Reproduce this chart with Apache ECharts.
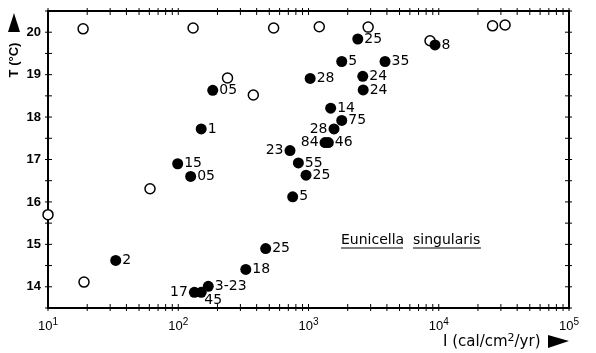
<!DOCTYPE html>
<html>
<head>
<meta charset="utf-8">
<script src="https://cdn.jsdelivr.net/npm/echarts@6/dist/echarts.min.js"></script>
<style>
  html, body { margin: 0; padding: 0; background: #fff; }
  #chart { width: 596px; height: 353px; }
</style>
</head>
<body>
<div id="chart"></div>
<script>
// open circles
var openI = [18.6, 130, 540, 1210, 2870, 8570, 25900, 32300, 239, 377, 10, 60.7, 18.9];
var openT = [20.08, 20.1, 20.1, 20.13, 20.12, 19.8, 20.15, 20.17, 18.92, 18.52, 15.7, 16.31, 14.11];

// filled circles with their depth labels
var fillI = [184, 150, 99, 124.5, 33.1, 469, 330, 133, 150, 170, 756,
  2390, 9360, 1800, 3870, 1030, 2610, 2630, 1480, 1800, 1570, 1340, 1420, 721, 836, 957];
var fillT = [18.63, 17.72, 16.90, 16.60, 14.62, 14.90, 14.41, 13.87, 13.87, 14.01, 16.12,
  19.84, 19.70, 19.31, 19.31, 18.91, 18.96, 18.64, 18.21, 17.92, 17.72, 17.40, 17.40, 17.21, 16.92, 16.63];
var fillLbl = ['05', '1', '15', '05', '2', '25', '18', '17', '45', '3-23', '5',
  '25', '8', '5', '35', '28', '24', '24', '14', '75', '28', '84', '46', '23', '55', '25'];

// tick values
var xTicks = [];
[10, 100, 1000, 10000].forEach(function (d) {
  for (var k = 1; k <= 9; k++) xTicks.push(k * d);
});
xTicks.push(100000);
var yTicks = [13.5, 14, 14.5, 15, 15.5, 16, 16.5, 17, 17.5, 18, 18.5, 19, 19.5, 20, 20.5];

var FONT = '"Liberation Sans", Arial, sans-serif';
var DV = '"DejaVu Sans", sans-serif';
var leftLbl = { '17': 1, '23': 1, '84': 1 };

var myChart = echarts.init(document.getElementById('chart'));

var fillData = fillI.map(function (v, i) {
  var d = { value: [v, fillT[i]], name: fillLbl[i] };
  if (leftLbl[fillLbl[i]] || i === 20) {
    d.label = { position: 'left' };
  }
  if (fillLbl[i] === '45') {
    d.label = { position: 'bottom', offset: [12, -5] };
  }
  return d;
});

var option = {
  animation: false,
  grid: {
    left: 48, right: 27, top: 11, bottom: 45,
    show: true, borderColor: '#000', borderWidth: 2
  },
  xAxis: {
    type: 'log',
    logBase: 10,
    min: 10,
    max: 100000,
    axisLine: { show: false },
    axisTick: { show: false },
    splitLine: { show: false },
    axisLabel: {
      margin: 9,
      color: '#000',
      fontFamily: FONT,
      fontSize: 13,
      formatter: function (v) {
        return '{b|10}{s|' + Math.round(Math.log10(v)) + '}';
      },
      rich: {
        b: { fontSize: 13, fontFamily: FONT, color: '#000' },
        s: { fontSize: 10, fontFamily: FONT, color: '#000', padding: [0, 0, 8, 0] }
      }
    }
  },
  yAxis: {
    type: 'value',
    min: 13.5,
    max: 20.5,
    interval: 0.5,
    axisLine: { show: false },
    axisTick: { show: false },
    splitLine: { show: false },
    axisLabel: {
      margin: 7,
      color: '#000',
      fontFamily: FONT,
      fontSize: 13,
      fontWeight: 'bold',
      formatter: function (v) {
        return v % 1 === 0 ? String(v) : '';
      }
    }
  },
  graphic: [
    {
      type: 'text', x: 14, y: 60, rotation: Math.PI / 2,
      style: { text: 'T (°C)', font: 'bold 13px ' + FONT, fill: '#000', align: 'center', verticalAlign: 'middle' }
    },
    {
      type: 'polygon',
      shape: { points: [[14, 13], [8, 32], [20, 32]] },
      style: { fill: '#000' }
    },
    {
      type: 'text', x: 443, y: 342,
      style: {
        text: '{a|I (cal/cm}{s|2}{a|/yr)}', fill: '#000', verticalAlign: 'middle',
        rich: {
          a: { font: '15px ' + DV, fill: '#000' },
          s: { font: '11px ' + DV, fill: '#000', padding: [0, 0, 7, 0] }
        }
      }
    },
    {
      type: 'polygon',
      shape: { points: [[548, 335], [548, 348], [569, 341]] },
      style: { fill: '#000' }
    },
    {
      type: 'text', x: 341, y: 240,
      style: { text: 'Eunicella  singularis', font: '14px ' + DV, fill: '#000', verticalAlign: 'middle' }
    },
    { type: 'line', shape: { x1: 341, y1: 248, x2: 403, y2: 248 }, style: { stroke: '#000', lineWidth: 1.2 } },
    { type: 'line', shape: { x1: 413, y1: 248, x2: 481, y2: 248 }, style: { stroke: '#000', lineWidth: 1.2 } }
  ],
  series: [
    {
      type: 'scatter',
      symbol: 'circle',
      symbolSize: 10,
      itemStyle: { color: '#fff', borderColor: '#000', borderWidth: 1.5, opacity: 1 },
      data: openI.map(function (v, i) { return [v, openT[i]]; }),
      z: 3
    },
    {
      type: 'scatter',
      symbol: 'circle',
      symbolSize: 11,
      itemStyle: { color: '#000', opacity: 1 },
      label: {
        show: true,
        position: 'right',
        distance: 1,
        color: '#000',
        fontFamily: DV,
        fontSize: 14,
        formatter: function (p) { return p.name; }
      },
      data: fillData,
      z: 4
    },
    {
      type: 'custom',
      silent: true,
      renderItem: function (params, api) {
        var cs = params.coordSys;
        var x = api.coord([api.value(0), 14])[0];
        return {
          type: 'group',
          children: [
            { type: 'line', shape: { x1: x, y1: cs.y + cs.height - 4, x2: x, y2: cs.y + cs.height + 3 }, style: { stroke: '#000', lineWidth: 1 } },
            { type: 'line', shape: { x1: x, y1: cs.y - 3, x2: x, y2: cs.y + 4 }, style: { stroke: '#000', lineWidth: 1 } }
          ]
        };
      },
      data: xTicks.map(function (v) { return [v, 14]; })
    },
    {
      type: 'custom',
      silent: true,
      renderItem: function (params, api) {
        var cs = params.coordSys;
        var y = api.coord([10, api.value(1)])[1];
        return {
          type: 'group',
          children: [
            { type: 'line', shape: { x1: cs.x - 3, y1: y, x2: cs.x + 4, y2: y }, style: { stroke: '#000', lineWidth: 1 } },
            { type: 'line', shape: { x1: cs.x + cs.width - 4, y1: y, x2: cs.x + cs.width + 3, y2: y }, style: { stroke: '#000', lineWidth: 1 } }
          ]
        };
      },
      data: yTicks.map(function (v) { return [10, v]; })
    }
  ]
};

myChart.setOption(option, true);
</script>
</body>
</html>
